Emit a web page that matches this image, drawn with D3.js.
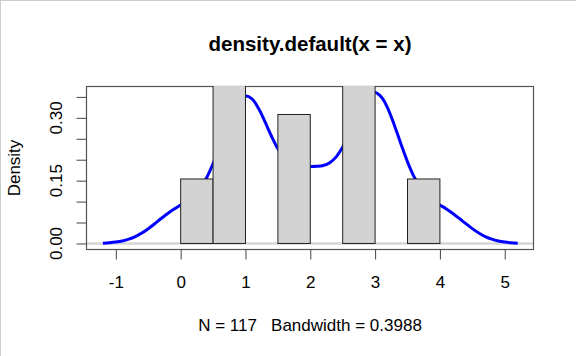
<!DOCTYPE html>
<html>
<head>
<meta charset="utf-8">
<script src="https://cdn.jsdelivr.net/npm/d3@7"></script>
<style>
  html, body { margin: 0; padding: 0; background: #fff; }
  svg { display: block; }
  text { font-family: "Liberation Sans", Arial, sans-serif; fill: #000; white-space: pre; }
</style>
</head>
<body>
<script>
// ---- data ----
const titleText = "density.default(x = x)";
const subText = "N = 117   Bandwidth = 0.3988";
const yLabel = "Density";

const densX = [-1.2,-1.1,-1.0,-0.9,-0.8,-0.7,-0.6,-0.5,-0.4,-0.3,-0.2,-0.1,
  0.0,0.1,0.2,0.3,0.4,0.5,0.6,0.7,0.8,0.9,1.0,1.1,1.2,1.3,1.4,1.5,1.6,1.7,1.8,1.9,
  2.0,2.1,2.2,2.3,2.4,2.5,2.6,2.7,2.8,2.9,3.0,3.1,3.2,3.3,3.4,3.5,3.6,3.7,3.8,3.9,
  4.0,4.1,4.2,4.3,4.4,4.5,4.6,4.7,4.8,4.9,5.0,5.1,5.2];
const densY = [0.0008,0.0017,0.0033,0.0060,0.0103,0.0165,0.0248,0.0353,0.0472,0.0597,0.0715,0.0822,
  0.0917,0.1013,0.1135,0.1313,0.1568,0.1910,0.2319,0.2749,0.3134,0.3407,0.3518,0.3451,0.3229,0.2910,0.2566,0.2260,0.2040,0.1909,0.1852,0.1837,
  0.1837,0.1842,0.1862,0.1927,0.2068,0.2302,0.2618,0.2974,0.3304,0.3534,0.3604,0.3490,0.3210,0.2813,0.2370,0.1949,0.1596,0.1331,0.1147,0.1020,
  0.0920,0.0824,0.0716,0.0597,0.0473,0.0354,0.0249,0.0165,0.0103,0.0060,0.0033,0.0017,0.0008];

const binStart = [0, 0.5, 1, 1.5, 2, 2.5, 3, 3.5];
const binEnd   = [0.5, 1, 1.5, 2, 2.5, 3, 3.5, 4];
const binDensity = [0.154, 0.684, 0, 0.308, 0, 0.701, 0, 0.154];

const xTicks = [-1, 0, 1, 2, 3, 4, 5];
const yTicks = [0, 0.05, 0.10, 0.15, 0.20, 0.25, 0.30, 0.35];
const yTickLabels = [0, 0.15, 0.30];

// ---- layout ----
const W = 576, H = 356;
const L = 86.5, R = 533.5, T = 86.5, B = 249.5;

const svg = d3.select("body").append("svg").attr("width", W).attr("height", H);

// window border (light grey top/left edge)
svg.append("line").attr("x1", 0).attr("x2", W).attr("y1", 0.5).attr("y2", 0.5)
  .attr("stroke", "#cccccc").attr("stroke-width", 1);
svg.append("line").attr("x1", 0.5).attr("x2", 0.5).attr("y1", 0).attr("y2", H)
  .attr("stroke", "#cccccc").attr("stroke-width", 1);

const x = d3.scaleLinear().domain([-1.453, 5.444]).range([L, R]);
const yMax = d3.max(densY);
const y = d3.scaleLinear().domain([-0.04 * yMax, 1.04 * yMax]).range([B, T]);

const defs = svg.append("defs");
defs.append("clipPath").attr("id", "plotclip")
  .append("rect").attr("x", L - 0.5).attr("y", T - 0.5).attr("width", R - L + 1).attr("height", B - T + 1);

// zero line
svg.append("line")
  .attr("x1", L).attr("x2", R)
  .attr("y1", y(0)).attr("y2", y(0))
  .attr("stroke", "#d6d6d6").attr("stroke-width", 2.5);

// density curve
const line = d3.line()
  .x((d, i) => x(densX[i]))
  .y(d => y(d))
  .curve(d3.curveCatmullRom);
svg.append("path")
  .datum(densY)
  .attr("d", line)
  .attr("fill", "none")
  .attr("stroke", "#0000ff")
  .attr("stroke-width", 3)
  .attr("stroke-linejoin", "round");

// box
svg.append("rect")
  .attr("x", L).attr("y", T).attr("width", R - L).attr("height", B - T)
  .attr("fill", "none").attr("stroke", "#555555").attr("stroke-width", 1.2);

// histogram bars (added over the density plot, clipped to plot region)
svg.append("g").attr("clip-path", "url(#plotclip)")
  .selectAll("rect")
  .data(binDensity)
  .join("rect")
  .attr("x", (d, i) => x(binStart[i]))
  .attr("width", (d, i) => x(binEnd[i]) - x(binStart[i]))
  .attr("y", d => y(d))
  .attr("height", d => y(0) - y(d))
  .attr("fill", "#d3d3d3")
  .attr("stroke", "#222222")
  .attr("stroke-width", 1);

// x axis
const xAxis = d3.axisBottom(x).tickValues(xTicks).tickSize(10).tickPadding(16)
  .tickFormat(d3.format("d"));
const gx = svg.append("g").attr("transform", `translate(0,${B})`).call(xAxis);
gx.select(".domain").remove();
gx.selectAll(".tick line").attr("stroke", "#444");
gx.selectAll(".tick text").attr("font-size", 17).attr("font-family", "Liberation Sans, Arial, sans-serif").attr("fill", "#000")
  .text(d => d < 0 ? "-" + Math.abs(d) : d);

// y axis
const yAxis = d3.axisLeft(y).tickValues(yTicks).tickSize(10).tickFormat("");
const gy = svg.append("g").attr("transform", `translate(${L},0)`).call(yAxis);
gy.select(".domain").remove();
gy.selectAll(".tick line").attr("stroke", "#444");

svg.append("g").selectAll("text")
  .data(yTickLabels)
  .join("text")
  .attr("transform", d => `translate(62,${y(d)}) rotate(-90)`)
  .attr("text-anchor", "middle")
  .attr("font-size", 17)
  .text(d => d3.format(".2f")(d));

// y label
svg.append("text")
  .attr("transform", `translate(20,${(T + B) / 2}) rotate(-90)`)
  .attr("text-anchor", "middle")
  .attr("font-size", 17)
  .text(yLabel);

// title
svg.append("text")
  .attr("x", (L + R) / 2).attr("y", 51)
  .attr("text-anchor", "middle")
  .attr("font-size", 20.5)
  .attr("font-weight", "bold")
  .text(titleText);

// subtitle
svg.append("text")
  .attr("x", (L + R) / 2).attr("y", 331)
  .attr("text-anchor", "middle")
  .attr("font-size", 17)
  .attr("xml:space", "preserve")
  .text(subText);
</script>
</body>
</html>
